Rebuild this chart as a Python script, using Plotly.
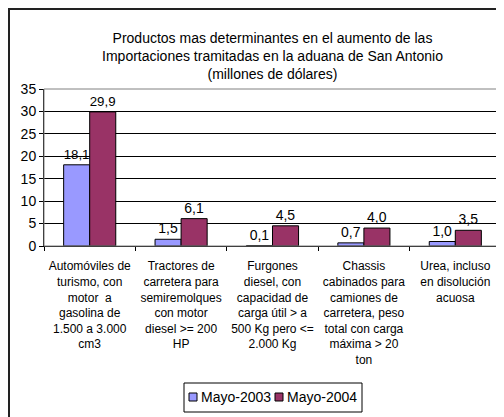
import plotly.graph_objects as go

categories = [
    "Automóviles de<br>turismo, con<br>motor  a<br>gasolina de<br>1.500 a 3.000<br>cm3",
    "Tractores de<br>carretera para<br>semiremolques<br>con motor<br>diesel &gt;= 200<br>HP",
    "Furgones<br>diesel, con<br>capacidad de<br>carga útil &gt; a<br>500 Kg pero &lt;=<br>2.000 Kg",
    "Chassis<br>cabinados para<br>camiones de<br>carretera, peso<br>total con carga<br>máxima &gt; 20<br>ton",
    "Urea, incluso<br>en disolución<br>acuosa",
]
series_names = ["Mayo-2003", "Mayo-2004"]
mayo_2003 = [18.1, 1.5, 0.1, 0.7, 1.0]
mayo_2004 = [29.9, 6.1, 4.5, 4.0, 3.5]
colors = ["#9999FF", "#993366"]

# page body has an 8px margin, so figure coords = screen coords - 8
W, H = 504, 417
L, R, T, B = 36, 11, 81, 179
pw, ph = W - L - R, H - T - B

def px_x(p):
    return (p - L) / pw

def px_y(p):
    return (H - B - p) / ph

fig = go.Figure()
for name, vals, col in zip(series_names, [mayo_2003, mayo_2004], colors):
    fig.add_bar(x=categories, y=vals, name=name,
                marker=dict(color=col, line=dict(color="black", width=1)))
fig.update_traces(texttemplate="%{y:.1f}", textposition="outside",
                  textfont=dict(size=14, color="black"), cliponaxis=False)

# compact legend box drawn like the original (square + label)
shapes = [
    dict(type="rect", xref="paper", yref="paper", x0=0, x1=1, y0=0, y1=1,
         line=dict(color="#808080", width=1), layer="above"),
    dict(type="rect", xref="paper", yref="paper",
         x0=px_x(1), x1=px_x(530), y0=px_y(440), y1=px_y(1),
         line=dict(color="#222222", width=2), layer="below"),
    dict(type="rect", xref="paper", yref="paper",
         x0=px_x(176), x1=px_x(354), y0=px_y(404), y1=px_y(375),
         line=dict(color="black", width=1)),
]
annotations = []
for i, (name, col) in enumerate(zip(series_names, colors)):
    sx = [181, 267][i]
    shapes.append(dict(type="rect", xref="paper", yref="paper",
                       x0=px_x(sx), x1=px_x(sx + 8), y0=px_y(393), y1=px_y(385),
                       fillcolor=col, line=dict(color="black", width=1)))
    annotations.append(dict(xref="paper", yref="paper", x=px_x(sx + 10), y=px_y(389),
                            xanchor="left", yanchor="middle", showarrow=False,
                            text=name, font=dict(size=14, color="black")))

fig.update_layout(
    width=W, height=H,
    margin=dict(l=L, r=R, t=T, b=B),
    paper_bgcolor="white", plot_bgcolor="white",
    separators=",.",
    font=dict(family="Liberation Sans, Arial, sans-serif", color="black", size=14),
    title=dict(
        text="Productos mas determinantes en el aumento de las<br>"
             "Importaciones tramitadas en la aduana de San Antonio<br>"
             "(millones de dólares)",
        x=0.5, xref="paper", xanchor="center",
        y=1 - 35 / H, yanchor="middle",
        font=dict(size=14, color="black"),
    ),
    barmode="group", bargap=0.43, bargroupgap=0,
    showlegend=False,
    xaxis=dict(showgrid=False, showline=True, linecolor="black", linewidth=1,
               ticks="outside", tickson="boundaries", ticklen=4, tickcolor="black",
               tickfont=dict(size=12), tickangle=0, ticklabelstandoff=9),
    yaxis=dict(range=[0, 35], dtick=5, showgrid=True, gridcolor="black", gridwidth=1,
               showline=True, linecolor="black", linewidth=1,
               ticks="outside", ticklen=4, tickcolor="black", zeroline=False,
               tickfont=dict(size=14)),
    shapes=shapes,
    annotations=annotations,
)

fig.write_html("out.html")
